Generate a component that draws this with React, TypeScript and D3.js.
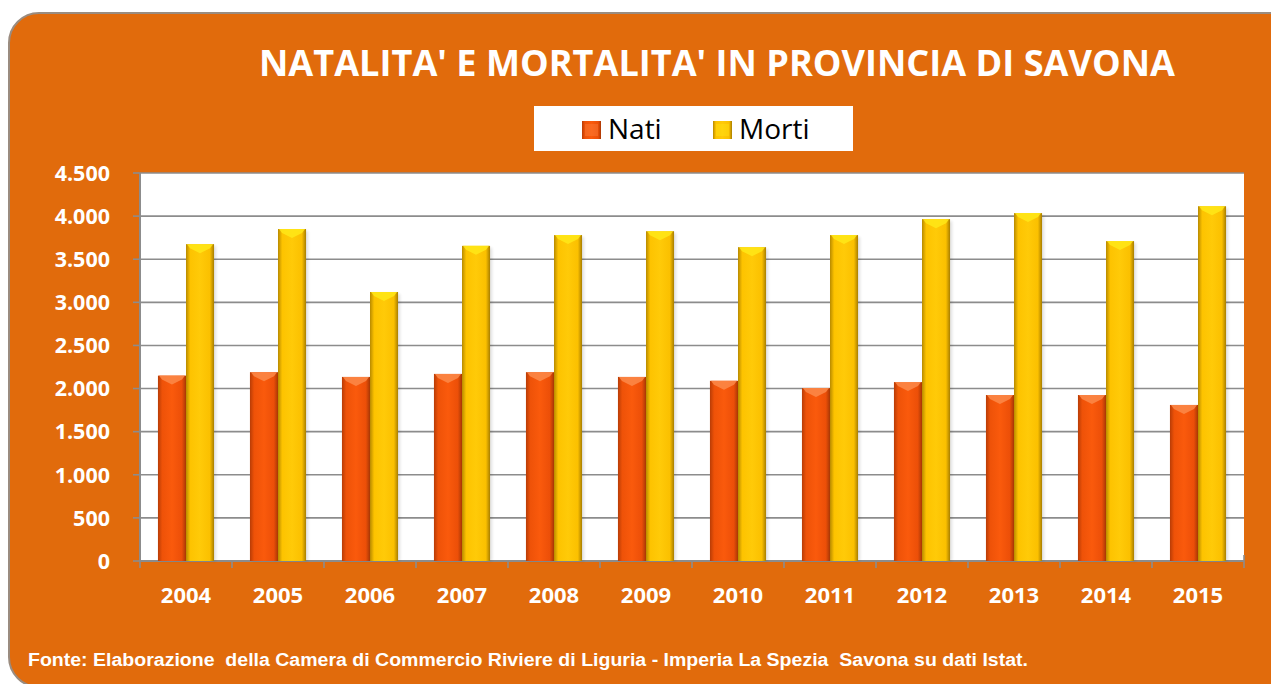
import React from 'react';
import * as d3 from 'd3';

const W = 1271;
const H = 684;

const years = ['2004', '2005', '2006', '2007', '2008', '2009', '2010', '2011', '2012', '2013', '2014', '2015'];
const nati = [2150, 2190, 2135, 2170, 2190, 2135, 2090, 2005, 2075, 1925, 1925, 1810];
const morti = [3675, 3850, 3120, 3655, 3780, 3825, 3640, 3780, 3965, 4035, 3710, 4115];
const seriesNames = ['Nati', 'Morti'];
const yTicks = [0, 500, 1000, 1500, 2000, 2500, 3000, 3500, 4000, 4500];

const title = "NATALITA' E MORTALITA' IN PROVINCIA DI SAVONA";
const footer = 'Fonte: Elaborazione  della Camera di Commercio Riviere di Liguria - Imperia La Spezia  Savona su dati Istat.';

const ORANGE = '#e16b0c';
const GRID = '#8c8c8c';
const fmt = d3.formatLocale({ decimal: ',', thousands: '.', grouping: [3], currency: ['', '€'] }).format(',d');

const plot = { l: 140, r: 1244, t: 173, b: 561 };

export default function App() {
  const x = d3.scaleBand().domain(years).range([plot.l, plot.r]).paddingInner(0).paddingOuter(0);
  const xs = d3.scaleBand().domain(seriesNames).range([0, x.bandwidth()]).paddingInner(0).paddingOuter(0.64);
  const y = d3.scaleLinear().domain([0, 4500]).range([plot.b, plot.t]);

  const rows = years.map((yr, i) => ({ yr, vals: [nati[i], morti[i]] }));
  const grads = ['gNati', 'gMorti'];
  const tops = ['#fb8a4a', '#ffe817'];

  const bar = (yr, s, v, k) => {
    const bx = x(yr) + xs(s);
    const bw = xs.bandwidth();
    const by = y(v);
    const bh = plot.b - by;
    return (
      <g key={k}>
        <rect x={bx + 2} y={by + 2} width={bw} height={bh - 2} fill="#000" opacity={0.12} filter="url(#blur)" />
        <rect x={bx} y={by} width={bw} height={bh} fill={`url(#${grads[seriesNames.indexOf(s)]})`} />
        <polygon
          points={`${bx + 1},${by} ${bx + bw - 1},${by} ${bx + bw - 4},${by + 4} ${bx + bw / 2},${by + 9} ${bx + 4},${by + 4}`}
          fill={tops[seriesNames.indexOf(s)]}
          opacity={0.85}
        />
      </g>
    );
  };

  return (
    <svg width={W} height={H} style={{ position: 'absolute', left: 0, top: 0, display: 'block' }} fontFamily="'Open Sans', sans-serif">
      <defs>
        <linearGradient id="gNati" x1="0" x2="1" y1="0" y2="0">
          <stop offset="0" stopColor="#b83c06" />
          <stop offset="0.15" stopColor="#ee5208" />
          <stop offset="0.5" stopColor="#fa5a0c" />
          <stop offset="0.85" stopColor="#ec4f08" />
          <stop offset="1" stopColor="#a83805" />
        </linearGradient>
        <linearGradient id="gMorti" x1="0" x2="1" y1="0" y2="0">
          <stop offset="0" stopColor="#b88a00" />
          <stop offset="0.15" stopColor="#fdc300" />
          <stop offset="0.5" stopColor="#ffca08" />
          <stop offset="0.85" stopColor="#fbc000" />
          <stop offset="1" stopColor="#a87e00" />
        </linearGradient>
        <filter id="blur" x="-20%" y="-5%" width="140%" height="110%">
          <feGaussianBlur stdDeviation="1.5" />
        </filter>
      </defs>

      <rect x={9} y={13} width={1290} height={674} rx={30} ry={30} fill={ORANGE} stroke="#9a8c80" strokeWidth={2} />

      <text x={259} y={76} fill="#fff" fontSize={36} fontWeight={700} textLength={916} lengthAdjust="spacingAndGlyphs">
        {title}
      </text>

      {/* legend */}
      <rect x={534} y={106} width={319} height={45} fill="#fff" />
      {seriesNames.map((s, i) => {
        const lx = [582, 713][i];
        return (
          <g key={s}>
            <rect x={lx} y={121} width={19} height={18} fill={`url(#${grads[i]})`} />
            <rect x={lx + 3} y={124} width={13} height={12} fill={tops[i]} opacity={0.35} />
            <text x={lx + 26} y={139} fontSize={28} fill="#000">{s}</text>
          </g>
        );
      })}

      {/* plot area */}
      <rect x={plot.l} y={plot.t} width={plot.r - plot.l} height={plot.b - plot.t} fill="#fff" />
      {yTicks.map((t) => (
        <g key={t}>
          <line x1={plot.l} x2={plot.r} y1={y(t)} y2={y(t)} stroke={GRID} strokeWidth={t === 0 ? 2 : 1.6} />
          <line x1={plot.l - 7} x2={plot.l} y1={y(t)} y2={y(t)} stroke={GRID} strokeWidth={1.6} />
          <text x={110} y={y(t)} dy="0.36em" textAnchor="end" fill="#fff" fontSize={21.5} fontWeight={700}>
            {fmt(t)}
          </text>
        </g>
      ))}
      <line x1={plot.l} x2={plot.l} y1={plot.t} y2={plot.b} stroke={GRID} strokeWidth={2} />

      {rows.map((r) => r.vals.map((v, j) => bar(r.yr, seriesNames[j], v, `${r.yr}-${j}`)))}

      {/* x axis */}
      {years.map((yr) => (
        <line key={`t${yr}`} x1={x(yr)} x2={x(yr)} y1={plot.b} y2={plot.b + 7} stroke={GRID} strokeWidth={1.6} />
      ))}
      <line x1={plot.r} x2={plot.r} y1={plot.b - 6} y2={plot.b + 7} stroke={GRID} strokeWidth={1.6} />
      {years.map((yr) => (
        <text key={`l${yr}`} x={x(yr) + x.bandwidth() / 2} y={603} textAnchor="middle" fill="#fff" fontSize={22} fontWeight={700}>
          {yr}
        </text>
      ))}

      <text x={28} y={666} fill="#fff" fontSize={18} fontWeight={700} textLength={1000} lengthAdjust="spacingAndGlyphs"
        fontFamily="'Liberation Sans', Arial, sans-serif" style={{ whiteSpace: 'pre' }}>
        {footer}
      </text>
    </svg>
  );
}
